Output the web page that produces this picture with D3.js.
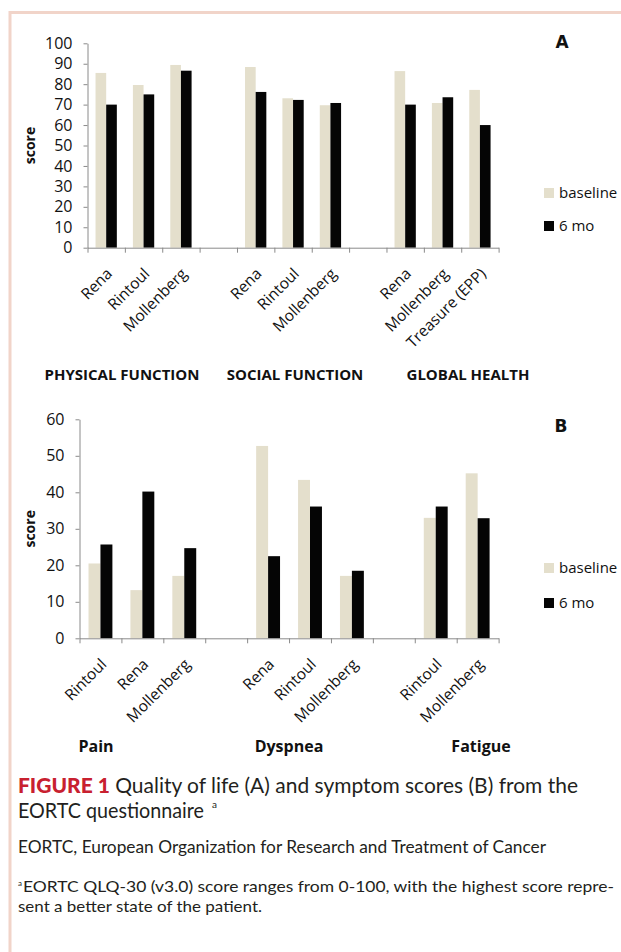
<!DOCTYPE html>
<html>
<head>
<meta charset="utf-8">
<script src="https://cdn.jsdelivr.net/npm/d3@7"></script>
<style>
  html, body { margin: 0; padding: 0; background: #fff; }
  svg { display: block; }
</style>
</head>
<body>
<svg id="chart" width="621" height="952"></svg>
<script>
// ---------------- data ----------------
const seriesNames = ["baseline", "6 mo"];
const seriesColors = ["#e4dfcc", "#050505"];

const categoriesA = ["Rena", "Rintoul", "Mollenberg", "", "Rena", "Rintoul", "Mollenberg", "", "Rena", "Mollenberg", "Treasure (EPP)"];
const baselineA = [85.5, 79.6, 89.4, null, 88.4, 73.1, 69.7, null, 86.4, 70.8, 77.2];
const sixMoA = [70.0, 75.0, 86.6, null, 76.2, 72.3, 70.8, null, 70.0, 73.6, 60.0];
const groupsA = ["PHYSICAL FUNCTION", "SOCIAL FUNCTION", "GLOBAL HEALTH"];
const ticksA = [0, 10, 20, 30, 40, 50, 60, 70, 80, 90, 100];

const categoriesB = ["Rintoul", "Rena", "Mollenberg", "", "Rena", "Rintoul", "Mollenberg", "", "Rintoul", "Mollenberg"];
const baselineB = [20.5, 13.2, 17.1, null, 52.7, 43.4, 17.1, null, 33.0, 45.2];
const sixMoB = [25.7, 40.2, 24.7, null, 22.5, 36.1, 18.5, null, 36.1, 32.9];
const groupsB = ["Pain", "Dyspnea", "Fatigue"];
const ticksB = [0, 10, 20, 30, 40, 50, 60];

// ---------------- drawing ----------------
const svg = d3.select("#chart");
const AXIS = "#8a8a8a";
const TEXT = "#111";

// frame
svg.append("path")
  .attr("d", "M10,952 L10,12.5 L621,12.5")
  .attr("fill", "none")
  .attr("stroke", "#f1d4c9")
  .attr("stroke-width", 3);

function panel(cfg) {
  const g = svg.append("g");
  const n = cfg.categories.length;
  const x = d3.scaleBand().domain(d3.range(n)).range([cfg.x0, cfg.x1]).paddingInner(0).paddingOuter(0);
  const xl = d3.scaleLinear().domain([0, n]).range([cfg.x0, cfg.x1]);
  const y = d3.scaleLinear().domain([0, cfg.ymax]).range([cfg.yZero, cfg.yTop]);
  const bw = x.bandwidth();
  const xs = d3.scaleBand().domain([0, 1]).range([bw * 0.215, bw * 0.785]).padding(0);

  // bars
  const data = [];
  cfg.categories.forEach((c, i) => {
    [cfg.baseline[i], cfg.sixMo[i]].forEach((v, s) => {
      if (v != null) data.push({ i, s, v });
    });
  });
  g.selectAll("rect.bar").data(data).join("rect")
    .attr("class", "bar")
    .attr("x", d => x(d.i) + xs(d.s))
    .attr("width", xs.bandwidth())
    .attr("y", d => y(d.v))
    .attr("height", d => y(0) - y(d.v))
    .attr("fill", d => seriesColors[d.s]);

  // y axis
  const ya = g.append("g").attr("transform", `translate(${cfg.x0},0)`)
    .call(d3.axisLeft(y).tickValues(cfg.ticks).tickSize(4).tickPadding(11).tickSizeOuter(0));
  ya.select(".domain").attr("stroke", AXIS);
  ya.selectAll(".tick line").attr("stroke", AXIS);
  ya.selectAll(".tick text").attr("fill", TEXT)
    .style("font-family", "'Open Sans', sans-serif").style("font-size", "16px");

  // x axis (ticks at band boundaries)
  const xa = g.append("g").attr("transform", `translate(0,${cfg.yZero})`)
    .call(d3.axisBottom(xl).tickValues(d3.range(n + 1)).tickSize(5).tickSizeOuter(0).tickFormat(""));
  xa.select(".domain").attr("stroke", AXIS);
  xa.selectAll(".tick line").attr("stroke", AXIS);

  // category labels
  g.selectAll("text.cat").data(cfg.categories.map((c, i) => ({ c, i })).filter(d => d.c)).join("text")
    .attr("class", "cat")
    .attr("transform", d => `translate(${x(d.i) + bw / 2 + 7},${cfg.yZero + 27}) rotate(-45)`)
    .attr("text-anchor", "end")
    .attr("fill", TEXT)
    .style("font-family", "'Open Sans', sans-serif").style("font-size", "15.5px")
    .text(d => d.c);

  // group labels
  g.selectAll("text.grp").data(cfg.groups).join("text")
    .attr("class", "grp")
    .attr("x", (d, k) => cfg.groupX[k])
    .attr("y", cfg.groupY)
    .attr("text-anchor", "middle")
    .attr("fill", TEXT)
    .style("font-family", "'Open Sans', sans-serif").style("font-size", cfg.groupSize).style("font-weight", 700)
    .text(d => d);

  // y title
  g.append("text")
    .attr("transform", `translate(${cfg.titleX},${(cfg.yZero + cfg.yTop) / 2}) rotate(-90)`)
    .attr("text-anchor", "middle")
    .attr("fill", TEXT)
    .style("font-family", "'Open Sans', sans-serif").style("font-size", "14px").style("font-weight", 700)
    .text("score");

  // panel letter
  g.append("text")
    .attr("x", cfg.letterX).attr("y", cfg.letterY)
    .attr("text-anchor", "middle")
    .attr("fill", "#111")
    .style("font-family", "'DejaVu Sans', sans-serif").style("font-size", "17px").style("font-weight", 700)
    .text(cfg.letter);

  // legend
  const lg = g.selectAll("g.leg").data(seriesNames).join("g").attr("class", "leg")
    .attr("transform", (d, k) => `translate(544,${cfg.legendY[k]})`);
  lg.append("rect").attr("x", 0).attr("y", -5).attr("width", 10).attr("height", 10)
    .attr("fill", (d, k) => seriesColors[k]);
  lg.append("text").attr("x", 15).attr("y", 0).attr("dy", "0.35em")
    .attr("fill", TEXT)
    .style("font-family", "'Open Sans', sans-serif").style("font-size", "15px")
    .text(d => d);
}

panel({
  categories: categoriesA, baseline: baselineA, sixMo: sixMoA, groups: groupsA, ticks: ticksA,
  ymax: 100, x0: 87.5, x1: 498.6, yTop: 43.3, yZero: 247.7,
  groupX: [122, 295, 468], groupY: 380, groupSize: "15px",
  titleX: 35, letter: "A", letterX: 562, letterY: 48, legendY: [193, 226]
});

panel({
  categories: categoriesB, baseline: baselineB, sixMo: sixMoB, groups: groupsB, ticks: ticksB,
  ymax: 60, x0: 79.5, x1: 498.6, yTop: 419.3, yZero: 638.3,
  groupX: [96, 289, 481], groupY: 752, groupSize: "16px",
  titleX: 35, letter: "B", letterX: 561, letterY: 432, legendY: [568, 603]
});

// ---------------- caption ----------------
const CAP = "#231f20";
const capFont = "Lato, 'Open Sans', sans-serif";
const t1 = svg.append("text").attr("x", 18).attr("y", 793)
  .attr("textLength", 560).attr("lengthAdjust", "spacingAndGlyphs")
  .style("font-family", capFont).style("font-size", "20.5px").attr("fill", CAP);
t1.append("tspan").attr("fill", "#c8202f").style("font-weight", 900).text("FIGURE 1");
t1.append("tspan").text(" Quality of life (A) and symptom scores (B) from the");

svg.append("text").attr("x", 18).attr("y", 818)
  .attr("textLength", 186).attr("lengthAdjust", "spacingAndGlyphs")
  .style("font-family", capFont).style("font-size", "20.5px").attr("fill", CAP)
  .text("EORTC questionnaire");
svg.append("text").attr("x", 212).attr("y", 808)
  .style("font-family", capFont).style("font-size", "10px").attr("fill", CAP)
  .text("a");

svg.append("text").attr("x", 18).attr("y", 853)
  .attr("textLength", 528).attr("lengthAdjust", "spacingAndGlyphs")
  .style("font-family", capFont).style("font-size", "16.5px").attr("fill", CAP)
  .text("EORTC, European Organization for Research and Treatment of Cancer");

svg.append("text").attr("x", 18).attr("y", 886)
  .style("font-family", capFont).style("font-size", "8px").attr("fill", CAP)
  .text("a");
svg.append("text").attr("x", 23).attr("y", 892)
  .attr("textLength", 591).attr("lengthAdjust", "spacingAndGlyphs")
  .style("font-family", capFont).style("font-size", "15px").attr("fill", CAP)
  .text("EORTC QLQ-30 (v3.0) score ranges from 0-100, with the highest score repre-");

svg.append("text").attr("x", 18).attr("y", 912)
  .attr("textLength", 244).attr("lengthAdjust", "spacingAndGlyphs")
  .style("font-family", capFont).style("font-size", "15px").attr("fill", CAP)
  .text("sent a better state of the patient.");
</script>
</body>
</html>
